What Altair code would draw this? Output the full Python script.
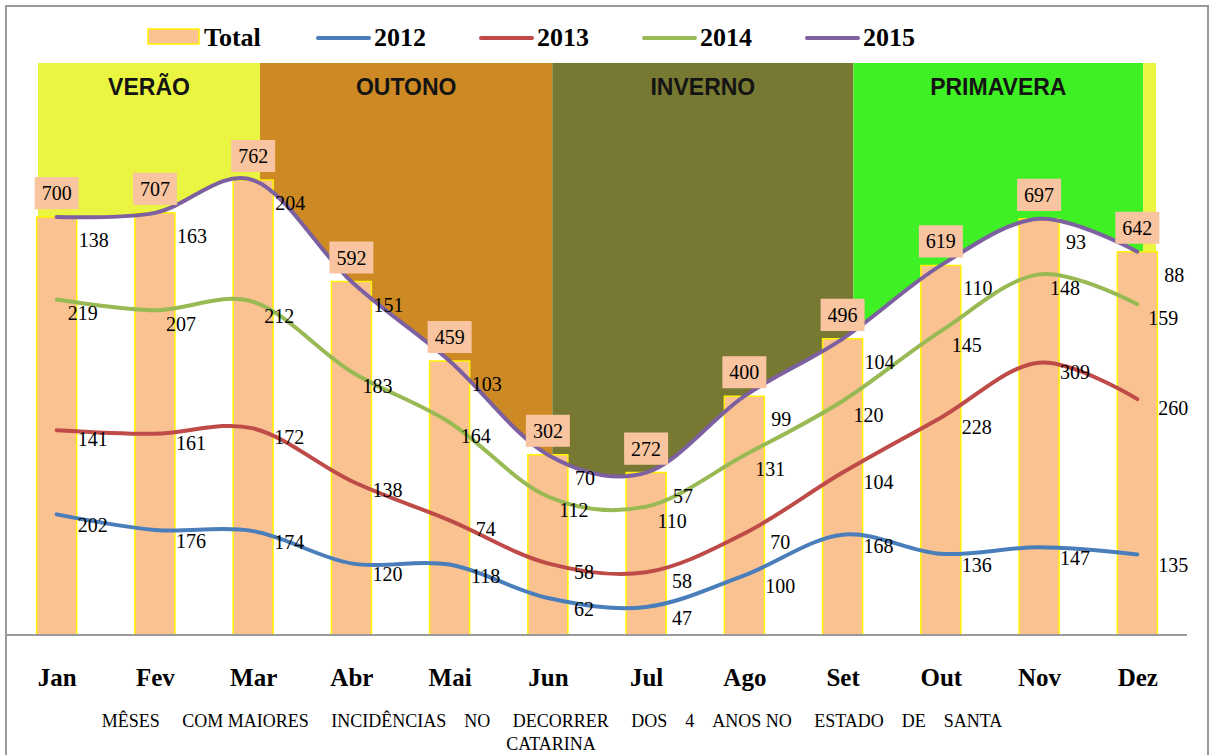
import json
import altair as alt
import pandas as pd

# ---------------- data ----------------
months = ["Jan", "Fev", "Mar", "Abr", "Mai", "Jun", "Jul", "Ago", "Set", "Out", "Nov", "Dez"]
totals = [700, 707, 762, 592, 459, 302, 272, 400, 496, 619, 697, 642]
y2012 = [202, 176, 174, 120, 118, 62, 47, 100, 168, 136, 147, 135]
y2013 = [141, 161, 172, 138, 74, 58, 58, 70, 104, 228, 309, 260]
y2014 = [219, 207, 212, 183, 164, 112, 110, 131, 120, 145, 148, 159]
y2015 = [138, 163, 204, 151, 103, 70, 57, 99, 104, 110, 93, 88]
series_names = ["2012", "2013", "2014", "2015"]
series_colors = ["#4A7EBB", "#BE4B48", "#98B954", "#7D60A0"]

season_names = ["VERÃO", "OUTONO", "INVERNO", "PRIMAVERA", ""]
season_start = [-0.19, 2.07, 5.045, 8.11, 11.06]
season_end = [2.07, 5.045, 8.11, 11.06, 11.19]
season_colors = ["#EAF541", "#CD8A24", "#777832", "#3FF024", "#EAF541"]

S4 = "\u00a0" * 4
S5 = "\u00a0" * 5
caption_1 = ("MÊSES" + S5 + "COM MAIORES" + S5 + "INCIDÊNCIAS" + S4 + "NO" + S5 + "DECORRER" + S5 +
             "DOS" + S4 + "4" + S4 + "ANOS NO" + S5 + "ESTADO" + S4 + "DE" + S4 + "SANTA")
caption_2 = "CATARINA"

# ---------------- layout ----------------
W, H = 1118, 572
PAD_L, PAD_T = 38, 63
BAR_FILL = "#FAC291"
BOX_FILL = "#F8C5A0"
BAR_EDGE = "#FFF200"
SERIF = "Liberation Serif"
SANS = "Liberation Sans"

label_offsets = {"2012": (36, 12), "2013": (36, 10), "2014": (26, 15), "2015": (37, 24)}

# ---------------- tables ----------------
rows = []
for i, m in enumerate(months):
    cum = 0
    for s, vals in zip(series_names, [y2012, y2013, y2014, y2015]):
        cum += vals[i]
        rows.append(dict(idx=i, month=m, series=s, value=vals[i], cum=cum))
long_df = pd.DataFrame(rows)
bar_df = pd.DataFrame(dict(idx=list(range(len(months))), month=months, total=totals))
season_df = pd.DataFrame(dict(name=season_names, start=season_start, end=season_end, color=season_colors))
season_df["mid"] = (season_df["start"] + season_df["end"]) / 2

xs = alt.Scale(domain=[-0.19, 11.19], nice=False, zero=False, padding=0)
ys = alt.Scale(domain=[0, 958], nice=False, zero=True, padding=0)

x_axis = alt.Axis(
    values=list(range(len(months))),
    labelExpr=json.dumps(months) + "[datum.value]",
    grid=False, domain=False, ticks=False, tickSize=0,
    labelPadding=42, labelFont=SERIF, labelFontSize=25, labelFontWeight="bold",
    labelColor="black", labelBaseline="middle", labelFlush=False, labelOverlap=False,
    title=None,
)


def X(field):
    return alt.X(field, type="quantitative", scale=xs, axis=x_axis)


def Y(field):
    return alt.Y(field, type="quantitative", scale=ys, axis=None)


# seasons background
seasons = alt.Chart(season_df).mark_rect().encode(
    x=X("start"), x2="end",
    y=alt.value(0), y2=alt.value(H),
    color=alt.Color("color:N", scale=None),
)
season_text = alt.Chart(season_df).transform_filter("datum.name != ''").mark_text(
    font=SANS, fontSize=23, fontWeight="bold", color="#141414", baseline="middle"
).encode(x=X("mid"), y=alt.value(25), text="name:N")

# white area below the top cumulative line
top_df = long_df[long_df.series == series_names[-1]]
white = alt.Chart(top_df).mark_area(interpolate="cardinal", color="white", opacity=1).encode(
    x=X("idx"), y=Y("cum")
)

bars = alt.Chart(bar_df).mark_bar(size=40, color=BAR_FILL, stroke=BAR_EDGE, strokeWidth=1.5).encode(
    x=X("idx"), y=Y("total")
)

lines = alt.Chart(long_df).mark_line(interpolate="cardinal", strokeWidth=4, strokeCap="round").encode(
    x=X("idx"), y=Y("cum"),
    color=alt.Color("series:N", scale=alt.Scale(domain=series_names, range=series_colors), legend=None),
    detail="series:N",
)

line_labels = []
for s in series_names:
    dx, dy = label_offsets[s]
    line_labels.append(
        alt.Chart(long_df[long_df.series == s]).mark_text(
            font=SERIF, fontSize=20, color="black", dx=dx, dy=dy, baseline="middle", align="center"
        ).encode(x=X("idx"), y=Y("cum"), text="value:Q")
    )

box_path = "M-1,-1.82L1,-1.82L1,-0.36L-1,-0.36Z"
boxes = alt.Chart(bar_df).mark_point(
    shape=box_path, size=44 * 44, filled=True, fill=BOX_FILL, opacity=1, fillOpacity=1, strokeWidth=0
).encode(x=X("idx"), y=Y("total"))
box_text = alt.Chart(bar_df).mark_text(
    font=SERIF, fontSize=20, color="black", dy=-23, baseline="middle"
).encode(x=X("idx"), y=Y("total"), text="total:Q")

# legend
leg_names = ["Total"] + series_names
leg_df = pd.DataFrame(dict(name=leg_names))
leg_df["k"] = range(len(leg_names))
leg_df["x0"] = leg_df["k"].apply(lambda k: 110 if k == 0 else 280 + 163 * (k - 1))
leg_df["x1"] = leg_df["x0"] + 51
leg_df["tx"] = leg_df["x1"] + 5
leg_lines_df = leg_df[leg_df.k > 0]

leg_swatch = alt.Chart(leg_df[leg_df.k == 0]).mark_rect(fill=BAR_FILL, stroke=BAR_EDGE, strokeWidth=1.5).encode(
    x=alt.X("x0:Q", scale=None), x2="x1:Q", y=alt.value(-34), y2=alt.value(-19)
)
leg_lines = alt.Chart(leg_lines_df).mark_rule(strokeWidth=4, strokeCap="round").encode(
    x=alt.X("x0:Q", scale=None), x2="x1:Q", y=alt.value(-25),
    color=alt.Color("name:N", scale=alt.Scale(domain=series_names, range=series_colors), legend=None),
)
leg_text = alt.Chart(leg_df).mark_text(
    font=SERIF, fontSize=26, fontWeight="bold", color="black", align="left", baseline="middle"
).encode(x=alt.X("tx:Q", scale=None), y=alt.value(-25), text="name:N")

# decorations
deco_df = pd.DataFrame(dict(a=[0]))
axis_line = alt.Chart(deco_df).mark_rule(color="#9A9A9A", strokeWidth=2).encode(
    x=alt.value(-31), x2=alt.value(1149), y=alt.value(H)
)
border = alt.Chart(deco_df).mark_rect(fillOpacity=0, stroke="#9A9A9A", strokeWidth=2).encode(
    x=alt.value(-32), x2=alt.value(1170), y=alt.value(-57), y2=alt.value(720)
)
cap1 = alt.Chart(deco_df).mark_text(font=SERIF, fontSize=18, color="black", baseline="middle").encode(
    x=alt.value(514), y=alt.value(659), text=alt.value(caption_1)
)
cap2 = alt.Chart(deco_df).mark_text(font=SERIF, fontSize=18, color="black", baseline="middle").encode(
    x=alt.value(513), y=alt.value(682), text=alt.value(caption_2)
)

chart = alt.layer(
    seasons, white, bars, lines, *line_labels, boxes, box_text, season_text,
    leg_swatch, leg_lines, leg_text, axis_line, border, cap1, cap2
).properties(
    width=W, height=H,
    padding={"left": PAD_L, "top": PAD_T, "right": 1212 - PAD_L - W, "bottom": 755 - PAD_T - H},
    autosize=alt.AutoSizeParams(type="none"),
    background="white",
).configure_view(strokeWidth=0)

chart.save("out.html", embed_options={"renderer": "svg", "actions": False})
